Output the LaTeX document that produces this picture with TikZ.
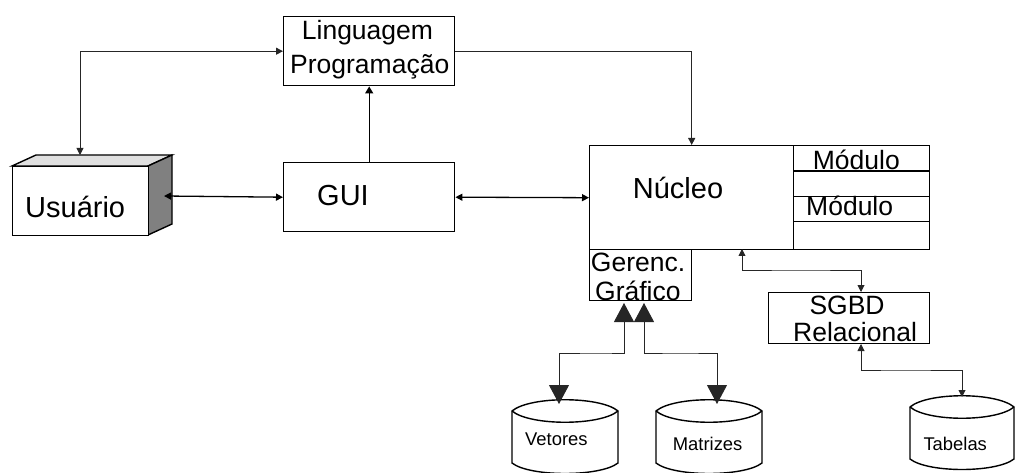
\documentclass[tikz,border=0pt]{standalone}
\usepackage{fontspec}
\setmainfont{Liberation Sans}
\usetikzlibrary{arrows.meta,positioning}
\tikzset{
  x=1pt,y=-1pt,
  boxnode/.style={draw=black,line width=1.4pt,inner sep=0pt,anchor=north west,fill=white},
  bigtxt/.style={inner sep=0pt,anchor=base west,font=\fontsize{26.5pt}{26.5pt}\selectfont},
  hugetxt/.style={inner sep=0pt,anchor=base west,font=\fontsize{29pt}{29pt}\selectfont},
  smalltxt/.style={inner sep=0pt,anchor=base west,font=\fontsize{18.4pt}{18.4pt}\selectfont},
  thinconn/.style={draw=black!85,line width=0.9pt,{Triangle[length=7pt,width=7pt]}-{Triangle[length=7pt,width=7pt]}},
  thickconn/.style={draw=black,line width=1.3pt,{Triangle[length=7pt,width=7pt]}-{Triangle[length=7pt,width=7pt]}},
  upconn/.style={draw=black,line width=1.3pt,-{Triangle[length=7pt,width=8pt]}},
  bigconn/.style={draw=black!85,line width=1pt,{Triangle[length=19pt,width=20pt]}-{Triangle[length=19pt,width=20pt]}},
  dbshape/.style={draw=black,line width=1.4pt,fill=white},
}
\newcommand{\dbcyl}[3]{% left x, right x, top centre y
  \draw[dbshape] (#1,#3) -- (#1,#3+52) .. controls (#1+18,#3+66) and (#2-18,#3+66) .. (#2,#3+52) -- (#2,#3)
    .. controls (#2-18,#3-15) and (#1+18,#3-15) .. (#1,#3) -- cycle;
  \draw[dbshape,fill=none] (#1,#3) .. controls (#1+18,#3+15) and (#2-18,#3+15) .. (#2,#3);
}
\begin{document}
\begin{tikzpicture}
\useasboundingbox (0,0) rectangle (1015,473);
% user box faces
\draw[line width=1.4pt,fill=black!12] (12,166) -- (36,155) -- (172,155) -- (148,166) -- cycle;
\draw[line width=1.4pt,fill=black!50] (148,166) -- (172,155) -- (172,224) -- (148,235) -- cycle;
\node[boxnode,minimum width=136pt,minimum height=69pt] (usr) at (12,166) {};
\coordinate (usrtop) at (80,155);
\coordinate (usrside) at (164,196);
% boxes
\node[boxnode,minimum width=171pt,minimum height=69pt] (ling) at (283,16) {};
\node[boxnode,minimum width=171pt,minimum height=69pt] (gui) at (283,162) {};
\node[boxnode,minimum width=204pt,minimum height=104pt] (nuc) at (589,145) {};
\node[boxnode,minimum width=136pt,minimum height=104pt] (mods) at (793,145) {};
\node[boxnode,minimum width=102pt,minimum height=51pt] (ger) at (589,249) {};
\node[boxnode,minimum width=161pt,minimum height=51pt] (sgbd) at (768,292) {};
\coordinate (m1l) at (793,171); \coordinate (m1r) at (929,171);
\coordinate (m2l) at (793,197); \coordinate (m2r) at (929,197);
\coordinate (m3l) at (793,222); \coordinate (m3r) at (929,222);
\draw[line width=1.4pt] (m1l) -- (m1r);
\draw[line width=1pt] (m2l) -- (m2r);
\draw[line width=1pt] (m3l) -- (m3r);
% cylinders
\dbcyl{512}{618}{411}
\dbcyl{656}{762}{411}
\dbcyl{910}{1014}{407}
\coordinate (vet) at (559,404);
\coordinate (mat) at (717,404);
\coordinate (tab) at (962,397);
% ports
\coordinate (gerA) at (624,303);
\coordinate (gerB) at (644,303);
\coordinate (nucS) at (742,249);
\coordinate (sgbdN) at (861,292);
\coordinate (sgbdS) at (861,344);
% connectors
\draw[thinconn] (ling.west) -| (usrtop);
\draw[draw=black!85,line width=0.9pt,-{Triangle[length=7pt,width=7pt]}] (ling.east) -| (nuc.north);
\draw[upconn] (gui.north) -- (ling.south);
\draw[thickconn] (usrside) -- (gui.west);
\draw[thickconn] (gui.east) -- (nuc.west);
\draw[thinconn] (nucS) |- (800,270) -| (sgbdN);
\draw[thinconn] (sgbdS) |- (900,370) -| (tab);
\draw[bigconn] (gerA) |- (600,353) -| (vet);
\draw[bigconn] (gerB) |- (680,353) -| (mat);
% texts
\node[hugetxt] (tusr) at (25,218) {Usuário};
\node[hugetxt] (tgui) at (317,206) {GUI};
\node[hugetxt] (tnuc) at (632.7,199) {Núcleo};
\node[bigtxt] (tl1) at (301.7,40) {Linguagem};
\node[bigtxt] (tl2) at (290,74) {Programação};
\node[bigtxt] (tm1) at (812.7,170) {Módulo};
\node[bigtxt] (tm2) at (806,215.7) {Módulo};
\node[bigtxt] (tg1) at (590.7,272) {Gerenc.};
\node[bigtxt] (tg2) at (595,300) {Gráfico};
\node[bigtxt] (ts1) at (809.3,314.3) {SGBD};
\node[bigtxt] (ts2) at (793,341) {Relacional};
\node[smalltxt] (tv) at (525,445) {Vetores};
\node[smalltxt] (tmt) at (672.7,450) {Matrizes};
\node[smalltxt] (ttb) at (923.3,450) {Tabelas};
\end{tikzpicture}
\end{document}
